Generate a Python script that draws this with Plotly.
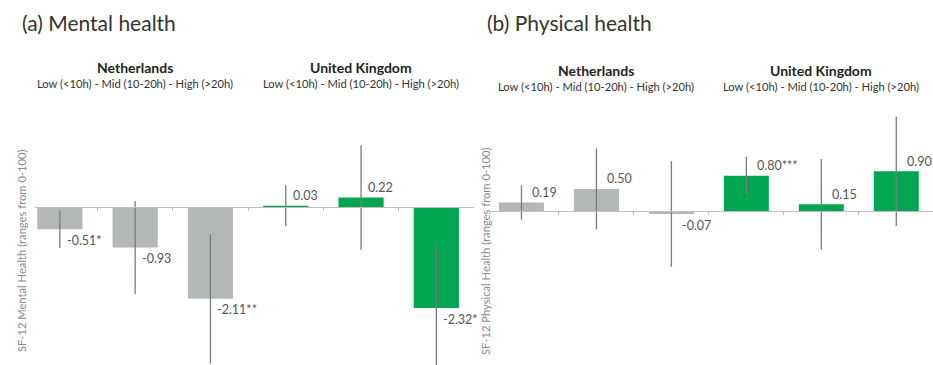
import plotly.graph_objects as go

# Hours of informal care per week, by country
groups = ["Low (<10h)", "Mid (10-20h)", "High (>20h)"]
countries = ["Netherlands", "United Kingdom"]
group_line = "Low (<10h) - Mid (10-20h) - High (>20h)"

# SF-12 mental health effects (NL low/mid/high, UK low/mid/high)
mental = [-0.51, -0.93, -2.11, 0.03, 0.22, -2.32]
mental_ci = [0.43, 1.07, 1.49, 0.47, 1.20, 1.42]
mental_sig = ["*", "", "**", "", "", "*"]

# SF-12 physical health effects
physical = [0.19, 0.50, -0.07, 0.80, 0.15, 0.90]
physical_ci = [0.39, 0.92, 1.20, 0.43, 1.03, 1.24]
physical_sig = ["", "", "", "***", "", ""]

W, H = 933, 365
GRAY = "#b4b7b7"
GREEN = "#00a651"
ERR = "#7a7a7a"
FONT = "Lato"

bar_colors = [GRAY] * 3 + [GREEN] * 3
xpos = list(range(len(groups) * len(countries)))

panels = [
    dict(vals=mental, ci=mental_ci, sig=mental_sig, title="(a) Mental health",
         ytitle="SF-12 Mental Health (ranges from 0-100)",
         xdom=[35 / W, 474 / W], xr=[-0.33, 5.5], yr=[-3.63, 2.46],
         title_x=20, ytitle_x=22, head_y=67, lab_dx=5),
    dict(vals=physical, ci=physical_ci, sig=physical_sig, title="(b) Physical health",
         ytitle="SF-12 Physical Health (ranges from 0-100)",
         xdom=[490 / W, 1.0], xr=[-0.42, 5.49], yr=[-3.5, 2.52],
         title_x=485, ytitle_x=486, head_y=70, lab_dx=9),
]

ydom = [0, 1 - 100 / H]

fig = go.Figure()
annotations = []
layout = {}

for k, p in enumerate(panels, start=1):
    xa = "x" if k == 1 else f"x{k}"
    ya = "y" if k == 1 else f"y{k}"
    fig.add_trace(go.Bar(
        x=xpos, y=p["vals"], xaxis=xa, yaxis=ya,
        marker=dict(color=bar_colors, line=dict(width=0)),
        error_y=dict(type="data", array=p["ci"], symmetric=True,
                     color=ERR, thickness=1.3, width=0),
        showlegend=False, hoverinfo="skip",
    ))

    y0, y1 = p["yr"]
    zero_pos = ydom[0] + (0 - y0) / (y1 - y0) * (ydom[1] - ydom[0])
    key = "" if k == 1 else str(k)
    layout[f"xaxis{key}"] = dict(
        domain=p["xdom"], range=p["xr"], anchor="free", position=zero_pos,
        showgrid=False, zeroline=False, showline=True, linecolor="#bdbdbd",
        linewidth=1, ticks="outside", ticklen=3, tickcolor="#bdbdbd",
        tickvals=[i + 0.5 for i in xpos[:-1]], showticklabels=False,
        fixedrange=True,
    )
    layout[f"yaxis{key}"] = dict(
        domain=ydom, range=p["yr"], anchor=xa, showgrid=False,
        zeroline=False, showline=False, showticklabels=False, ticks="",
        fixedrange=True,
    )

    # value labels next to each error bar
    for i, (v, s) in enumerate(zip(p["vals"], p["sig"])):
        annotations.append(dict(
            x=i, y=v, xref=xa, yref=ya, text=f"{v:.2f}{s}",
            showarrow=False, xanchor="left", yanchor="middle",
            xshift=p["lab_dx"], yshift=10 if v >= 0 else -11,
            font=dict(family=FONT, size=12.5, color="#555555"),
        ))

    # country headers above each group of bars
    for c, name in enumerate(countries):
        annotations.append(dict(
            x=c * 3 + 1, y=1 - p["head_y"] / H, xref=xa, yref="paper",
            text=f"<b>{name}</b>", showarrow=False, xanchor="center",
            yanchor="middle", font=dict(family=FONT, size=14, color="#222222"),
        ))
        annotations.append(dict(
            x=c * 3 + 1, y=1 - (p["head_y"] + 16) / H, xref=xa, yref="paper",
            text=group_line, showarrow=False, xanchor="center",
            yanchor="middle", font=dict(family=FONT, size=11.2, color="#333333"),
        ))

    # panel title
    annotations.append(dict(
        x=p["title_x"] / W, y=1 - 23 / H, xref="paper", yref="paper",
        text=p["title"], showarrow=False, xanchor="left", yanchor="middle",
        font=dict(family=FONT, size=21, color="#333333"),
    ))

    # vertical axis title
    annotations.append(dict(
        x=p["ytitle_x"] / W, y=1 - 251 / H, xref="paper", yref="paper",
        text=p["ytitle"], showarrow=False, textangle=-90,
        xanchor="center", yanchor="middle",
        font=dict(family=FONT, size=11.2, color="#8a8a8a"),
    ))

fig.update_layout(
    width=W, height=H, margin=dict(l=0, r=0, t=0, b=0),
    paper_bgcolor="white", plot_bgcolor="white",
    bargap=0.4, annotations=annotations, **layout,
)

fig.write_html("out.html", config={"displayModeBar": False})
